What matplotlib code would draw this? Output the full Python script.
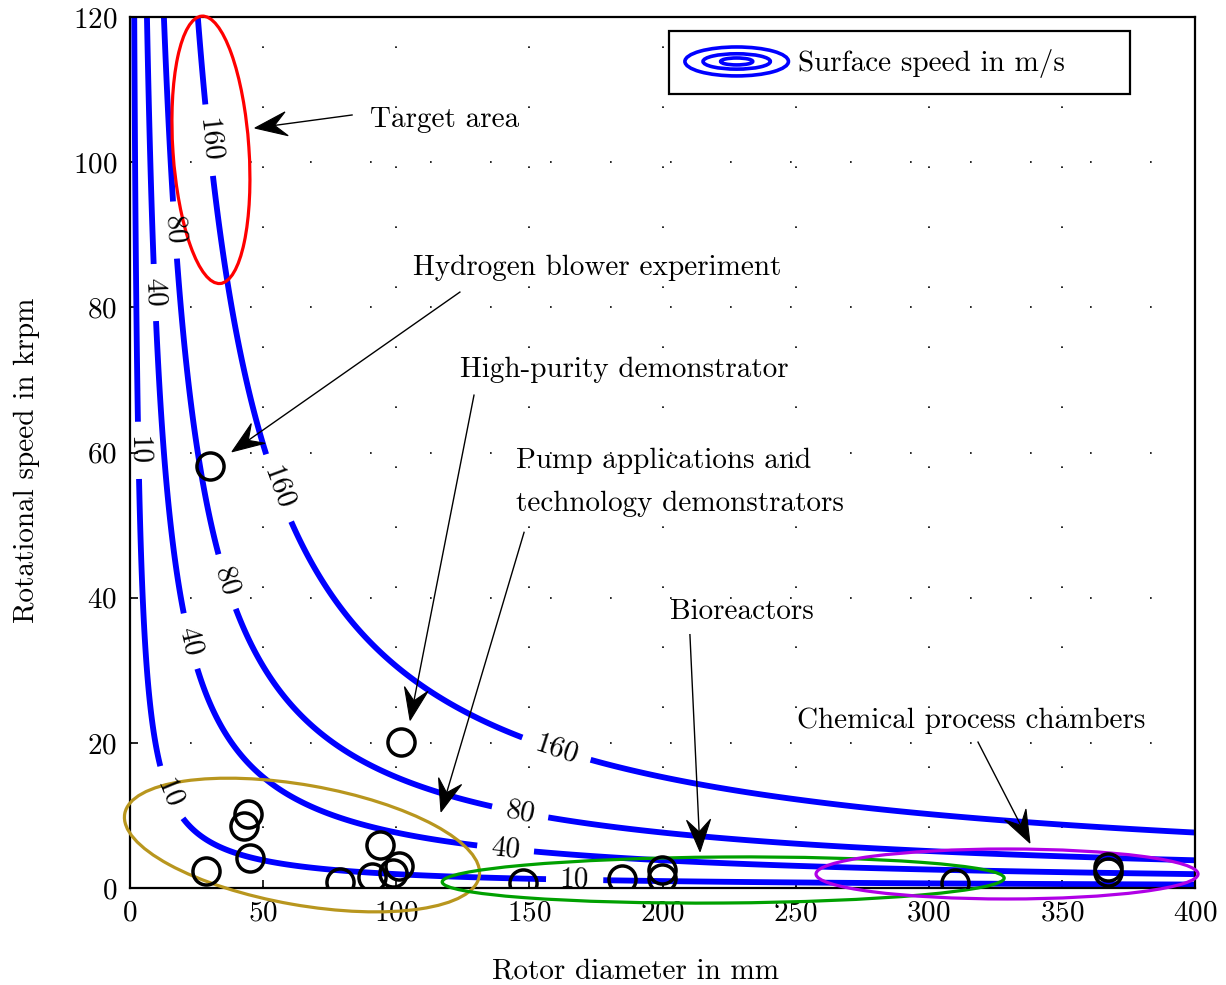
import numpy as np
import matplotlib
matplotlib.use("Agg")
import matplotlib.pyplot as plt
from matplotlib.patches import Ellipse, Polygon
from matplotlib.legend_handler import HandlerBase
from matplotlib.lines import Line2D
from matplotlib.transforms import Affine2D, ScaledTranslation

plt.rcParams["font.family"] = ["cmr10", "DejaVu Serif"]
plt.rcParams["mathtext.fontset"] = "cm"
plt.rcParams["axes.formatter.use_mathtext"] = True
plt.rcParams["axes.unicode_minus"] = False

FS = 21

# Surface speed levels (m/s) drawn as iso-lines of v = pi * d * n / 60
speed_levels = [10, 40, 80, 160]

# Rotor diameter (mm) and rotational speed (krpm) of existing machines
diam_mm = [30.0, 101.8, 44.3, 42.8, 45.1, 28.5, 78.9, 90.9, 93.9, 101.0, 98.8,
           147.6, 184.8, 199.8, 199.8, 309.9, 367.3, 367.3]
speed_krpm = [58.1, 20.1, 10.2, 8.5, 4.1, 2.3, 0.8, 1.5, 5.9, 3.0, 2.1,
              0.7, 1.2, 2.5, 1.4, 0.7, 2.9, 2.2]

x_ticks = [0, 50, 100, 150, 200, 250, 300, 350, 400]
y_ticks = [0, 20, 40, 60, 80, 100, 120]

fig = plt.figure(figsize=(12.26, 9.85), dpi=100)
ax = fig.add_axes([130 / 1226, 97 / 985, 1065 / 1226, 871 / 985])
ax.set_xlim(0, 400)
ax.set_ylim(0, 120)

# dotted grid
ax.set_xticks(x_ticks)
ax.set_yticks(y_ticks)
ax.grid(True, color="black", linestyle=(0, (1, 35)), linewidth=1.2, zorder=0)
ax.set_axisbelow(True)

# contour field
d = np.geomspace(0.2, 420, 1600)
n = np.geomspace(0.05, 125, 1600)
D, N = np.meshgrid(d, n)
V = np.pi * D * N / 60.0
cs = ax.contour(D, N, V, levels=speed_levels, colors="#0000ff",
                linewidths=4.2, zorder=2)
label_pos = [(3.8, 60.3), (13.1, 12.8), (167.0, 1.1),
             (6.8, 82.0), (22.5, 34.0), (141.0, 5.2),
             (15.0, 90.6), (34.6, 42.0), (146.5, 10.4),
             (29.0, 103.0), (55.0, 55.0), (160.0, 19.0)]
ax.clabel(cs, speed_levels, inline=True, fmt="%d", fontsize=FS,
          manual=label_pos, inline_spacing=14, colors="black")

# machines
ax.plot(diam_mm, speed_krpm, linestyle="none", marker="o", markersize=19.5,
        markerfacecolor="none", markeredgecolor="black", markeredgewidth=2.5,
        zorder=4)


def ring(cx, cy, w_px, h_px, angle, color):
    """Ellipse centred at a data point with size given in pixels."""
    tr = ScaledTranslation(cx, cy, ax.transData)
    e = Ellipse((0, 0), w_px, h_px, angle=angle, transform=tr,
                facecolor="none", edgecolor=color, linewidth=2.3,
                clip_on=False, zorder=3)
    ax.add_patch(e)


ring(30.4, 101.7, 268, 76, 93.9, "#ff0000")
ring(64.6, 5.92, 360, 120, -10, "#b8961e")
ring(222.8, 1.10, 562, 46, 0.4, "#00a000")
ring(329.4, 1.93, 382, 50, 0.0, "#b000e6")


def stealth(start, end, length=32, width=24, notch=0.62):
    """Straight line with a notched (stealth) arrow head at `end`."""
    p0 = ax.transData.transform(start)
    p1 = ax.transData.transform(end)
    theta = np.arctan2(p1[1] - p0[1], p1[0] - p0[0])
    back = ax.transData.inverted().transform(
        p1 - notch * length * np.array([np.cos(theta), np.sin(theta)]))
    ax.plot([start[0], back[0]], [start[1], back[1]], color="black",
            lw=1.0, zorder=5, clip_on=False)
    head = [(0, 0), (-length, width / 2), (-notch * length, 0),
            (-length, -width / 2)]
    tr = Affine2D().rotate(theta) + ScaledTranslation(end[0], end[1],
                                                       ax.transData)
    ax.add_patch(Polygon(head, closed=True, transform=tr, facecolor="black",
                         edgecolor="black", lw=0.8, zorder=5, clip_on=False))


def note(text, txy, start, end):
    ax.text(txy[0], txy[1], text, ha="left", va="center", fontsize=FS,
            linespacing=1.8, zorder=5)
    stealth(start, end)


note("Target area", (90.1, 105.9), (83.4, 106.5), (46.9, 104.7))
note("Hydrogen blower experiment", (106.3, 85.4), (123.9, 82.1), (38.3, 60.1))
note("High-purity demonstrator", (123.9, 71.4), (129.2, 67.9), (105.2, 23.1))
note("Pump applications and\ntechnology demonstrators", (144.9, 55.9),
     (148.0, 49.0), (116.8, 10.5))
note("Bioreactors", (202.8, 38.0), (210.3, 34.9), (214.1, 5.0))
note("Chemical process chambers", (250.5, 23.1), (318.5, 20.1), (338.0, 6.2))


class ConcentricRings(HandlerBase):
    def create_artists(self, legend, orig_handle, xdescent, ydescent,
                       width, height, fontsize, trans):
        cx = width / 2 - xdescent
        cy = height / 2 - ydescent
        arts = []
        for fw, fh in ((1.0, 1.0), (0.65, 0.53), (0.31, 0.24)):
            e = Ellipse((cx, cy), width * fw, height * fh, facecolor="none",
                        edgecolor="#0000ff", linewidth=2.6, transform=trans)
            arts.append(e)
        return arts


handle = Line2D([], [], color="#0000ff")
leg = ax.legend([handle], ["Surface speed in m/s     "],
                handler_map={Line2D: ConcentricRings()},
                loc="upper right", bbox_to_anchor=(0.939, 0.984),
                borderaxespad=0, fontsize=FS, handlelength=3.55,
                handleheight=1.15, handletextpad=0.34, borderpad=0.55,
                fancybox=False, framealpha=1, edgecolor="black")
leg.get_frame().set_linewidth(1.6)
leg.set_zorder(6)

ax.tick_params(direction="in", length=6, width=1.2, labelsize=FS,
               top=False, right=False, pad=9)
for s in ax.spines.values():
    s.set_linewidth(1.6)

ax.set_xlabel("Rotor diameter in mm", fontsize=FS)
ax.set_ylabel("Rotational speed in krpm", fontsize=FS)
ax.xaxis.set_label_coords((635 - 130) / 1065, -(958 - 888) / 871)
ax.yaxis.set_label_coords((40 - 130) / 1065, 0.491)

fig.savefig("out.png", dpi=100)
